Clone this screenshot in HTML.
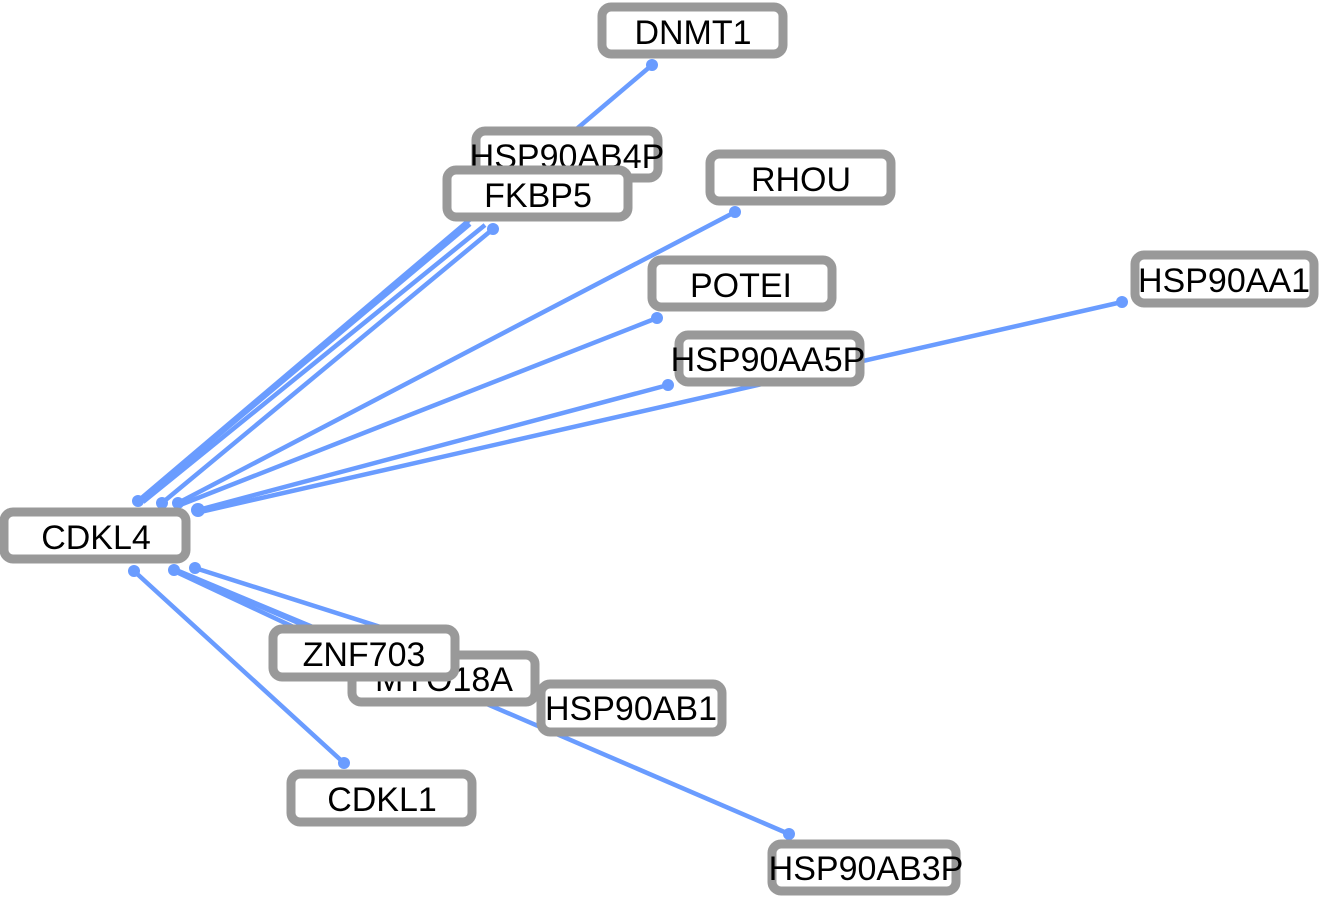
<!DOCTYPE html>
<html><head><style>
html,body{margin:0;padding:0;background:#fff;width:1322px;height:899px;overflow:hidden}
svg{display:block}
text{font-family:"Liberation Sans",sans-serif;font-size:34px;fill:#000;text-anchor:middle;dominant-baseline:central}
.n{fill:#fff;stroke:#999;stroke-width:9}
.e{stroke:#6a9cff;stroke-width:4.5;fill:none}
.d{fill:#6a9cff}
</style></head><body>
<svg width="1322" height="899" viewBox="0 0 1322 899">
<g>
<line class="e" x1="138" y1="501" x2="652" y2="65"/>
<line class="e" x1="140" y1="501" x2="470" y2="224"/>
<line class="e" x1="143" y1="502" x2="485" y2="225"/>
<line class="e" x1="162" y1="503" x2="493" y2="229"/>
<line class="e" x1="178" y1="503" x2="735" y2="212"/>
<line class="e" x1="180" y1="505" x2="657" y2="318"/>
<line class="e" x1="198" y1="510" x2="668" y2="385"/>
<line class="e" x1="200" y1="512" x2="1122" y2="302"/>
<line class="e" x1="134" y1="571" x2="344" y2="763"/>
<line class="e" x1="172" y1="570" x2="300" y2="630"/>
<line class="e" x1="176" y1="570" x2="380" y2="655"/>
<line class="e" x1="195" y1="568" x2="390" y2="630"/>
<line class="e" x1="180" y1="572" x2="789" y2="834"/>
</g>
<g>
<circle class="d" cx="138" cy="501" r="6"/><circle class="d" cx="652" cy="65" r="6"/>
<circle class="d" cx="162" cy="503" r="6"/><circle class="d" cx="493" cy="229" r="6"/>
<circle class="d" cx="178" cy="503" r="6"/><circle class="d" cx="735" cy="212" r="6"/>
<circle class="d" cx="657" cy="318" r="6"/>
<circle class="d" cx="198" cy="510" r="7"/><circle class="d" cx="668" cy="385" r="6"/>
<circle class="d" cx="1122" cy="302" r="6"/>
<circle class="d" cx="134" cy="571" r="6"/><circle class="d" cx="344" cy="763" r="6"/>
<circle class="d" cx="174" cy="570" r="6"/><circle class="d" cx="195" cy="568" r="6"/>
<circle class="d" cx="789" cy="834" r="6"/>
</g>
<g>
<rect class="n" x="602" y="7" width="181" height="47" rx="9"/><text x="693" y="33">DNMT1</text>
<rect class="n" x="476" y="131" width="182" height="47" rx="9"/><text x="567" y="157">HSP90AB4P</text>
<rect class="n" x="447" y="170" width="181" height="47" rx="9"/><text x="538" y="196">FKBP5</text>
<rect class="n" x="710" y="154" width="181" height="47" rx="9"/><text x="801" y="180">RHOU</text>
<rect class="n" x="652" y="260" width="180" height="47" rx="9"/><text x="741" y="286">POTEI</text>
<rect class="n" x="1135" y="255" width="179" height="48" rx="9"/><text x="1224" y="281">HSP90AA1</text>
<rect class="n" x="679" y="335" width="181" height="47" rx="9"/><text x="768" y="360">HSP90AA5P</text>
<rect class="n" x="4" y="512" width="182" height="47" rx="9"/><text x="96" y="538">CDKL4</text>
<rect class="n" x="541" y="684" width="181" height="48" rx="9"/><text x="631" y="709">HSP90AB1</text>
<rect class="n" x="352" y="655" width="183" height="47" rx="9"/><text x="444" y="680">MYO18A</text>
<rect class="n" x="273" y="629" width="182" height="48" rx="9"/><text x="364" y="655">ZNF703</text>
<rect class="n" x="291" y="774" width="181" height="48" rx="9"/><text x="382" y="800">CDKL1</text>
<rect class="n" x="772" y="844" width="184" height="47" rx="9"/><text x="866" y="869">HSP90AB3P</text>
</g>
</svg>
</body></html>
